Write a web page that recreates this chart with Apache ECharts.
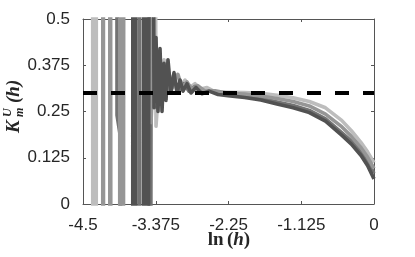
<!DOCTYPE html>
<html>
<head>
<meta charset="utf-8">
<script src="https://cdn.jsdelivr.net/npm/echarts/dist/echarts.min.js"></script>
<style>html,body{margin:0;padding:0;background:#fff}#c{width:415px;height:257px}</style>
</head>
<body>
<div id="c"></div>
<script>
// Tick values
const xTicks = [-4.5, -3.375, -2.25, -1.125, 0];
const yTicks = [0, 0.125, 0.25, 0.375, 0.5];
const refLevel = 0.3;

// Series 1 (light gray)
const s1X = [-4.5, -4.353, -4.346, -4.299, -4.291, -3.418, -3.371, -3.325, -3.294, -3.247, -3.201, -3.155, -3.108, -3.046, -2.985, -2.923, -2.845, -2.768, -2.691, -2.582, -2.459, -2.258, -2.0, -1.75, -1.5, -1.25, -1.0, -0.75, -0.5, -0.35, -0.2, -0.1, 0];
const s1Y = [3, 3, -3, -3, 3, 3, 0.21, 0.33, 0.30, 0.39, 0.31, 0.345, 0.315, 0.35, 0.32, 0.335, 0.315, 0.325, 0.31, 0.315, 0.303, 0.302, 0.301, 0.299, 0.294, 0.287, 0.277, 0.260, 0.226, 0.198, 0.166, 0.141, 0.112];

// Series 2 (mid gray)
const s2X = [-4.5, -4.198, -4.191, -4.183, -4.175, -4.090, -4.082, -4.067, -4.059, -3.936, -3.928, -3.897, -3.889, -3.866, -3.858, -3.464, -3.448, -3.418, -3.387, -3.340, -3.294, -3.232, -3.170, -3.108, -3.031, -2.969, -2.892, -2.815, -2.725, -2.613, -2.459, -2.258, -2.0, -1.75, -1.5, -1.25, -1.0, -0.75, -0.5, -0.35, -0.2, -0.1, 0];
const s2Y = [-3, -3, 3, 3, -3, -3, 3, 3, -3, -3, 3, 3, -3, -3, 3, 3, 0.22, 0.35, 0.27, 0.36, 0.29, 0.35, 0.30, 0.33, 0.35, 0.315, 0.33, 0.31, 0.32, 0.305, 0.306, 0.299, 0.297, 0.292, 0.285, 0.277, 0.265, 0.243, 0.209, 0.183, 0.152, 0.127, 0.096];

// Series 3 (dark gray)
const s3X = [-4.5, -3.982, -3.974, -3.920, -3.912, -3.634, -3.627, -3.479, -3.472, -3.448, -3.402, -3.356, -3.309, -3.263, -3.216, -3.155, -3.093, -3.015, -2.938, -2.861, -2.768, -2.660, -2.505, -2.258, -2.0, -1.75, -1.5, -1.25, -1.0, -0.75, -0.5, -0.35, -0.2, -0.1, 0];
const s3Y = [3, 3, 0.24, 0.18, -3, -3, 3, 3, -3, 0.28, 0.40, 0.26, 0.37, 0.28, 0.35, 0.30, 0.335, 0.305, 0.325, 0.305, 0.318, 0.302, 0.306, 0.296, 0.292, 0.286, 0.276, 0.266, 0.253, 0.230, 0.193, 0.170, 0.140, 0.115, 0.083];

// Series 4 (darkest gray)
const s4X = [-4.5, -3.734, -3.727, -3.688, -3.680, -3.572, -3.564, -3.533, -3.526, -3.448, -3.425, -3.402, -3.371, -3.340, -3.309, -3.278, -3.247, -3.216, -3.186, -3.139, -3.093, -3.046, -3.000, -2.954, -2.892, -2.830, -2.753, -2.660, -2.552, -2.412, -2.258, -2.0, -1.75, -1.5, -1.25, -1.0, -0.75, -0.5, -0.35, -0.2, -0.1, 0];
const s4Y = [-3, -3, 3, 3, -3, -3, 3, 3, -3, 3, 3, 0.26, 0.45, 0.25, 0.42, 0.25, 0.38, 0.28, 0.39, 0.30, 0.355, 0.30, 0.335, 0.305, 0.325, 0.30, 0.315, 0.298, 0.305, 0.296, 0.293, 0.288, 0.281, 0.270, 0.260, 0.247, 0.224, 0.186, 0.162, 0.131, 0.104, 0.068];

const zip = (xs, ys) => xs.map((x, i) => [x, ys[i]]);

const chart = echarts.init(document.getElementById('c'), null, {renderer: 'canvas'});
const axisCol = '#555';
const labelStyle = {fontSize: 17, color: '#262626', fontFamily: 'Liberation Sans, Arial, sans-serif'};
const xMin = xTicks[0], xMax = xTicks[xTicks.length - 1], xInt = xTicks[1] - xTicks[0];
const yMin = yTicks[0], yMax = yTicks[yTicks.length - 1], yInt = yTicks[1] - yTicks[0];

function lineSeries(data, color) {
  return {
    type: 'line', data: data, showSymbol: false, symbol: 'none', clip: true, silent: true,
    lineStyle: {color: color, width: 3.6, join: 'round'}
  };
}

chart.setOption({
  animation: false,
  backgroundColor: '#fff',
  grid: {left: 83, right: 41, top: 19, bottom: 53},
  xAxis: [
    {type: 'value', position: 'bottom', min: xMin, max: xMax, interval: xInt,
     axisLine: {show: true, onZero: false, lineStyle: {color: axisCol, width: 1}},
     axisTick: {show: true, inside: true, length: 3, lineStyle: {color: axisCol}},
     axisLabel: Object.assign({margin: 13, showMinLabel: true, showMaxLabel: true}, labelStyle),
     splitLine: {show: false}},
    {type: 'value', position: 'top', min: xMin, max: xMax, interval: xInt,
     axisLine: {show: true, onZero: false, lineStyle: {color: axisCol, width: 1}},
     axisTick: {show: true, inside: true, length: 3, lineStyle: {color: axisCol}},
     axisLabel: {show: false}, splitLine: {show: false}}
  ],
  yAxis: [
    {type: 'value', position: 'left', min: yMin, max: yMax, interval: yInt,
     axisLine: {show: true, onZero: false, lineStyle: {color: axisCol, width: 1}},
     axisTick: {show: true, inside: true, length: 3, lineStyle: {color: axisCol}},
     axisLabel: Object.assign({margin: 13, showMinLabel: true, showMaxLabel: true}, labelStyle),
     splitLine: {show: false}},
    {type: 'value', position: 'right', min: yMin, max: yMax, interval: yInt,
     axisLine: {show: true, onZero: false, lineStyle: {color: axisCol, width: 1}},
     axisTick: {show: true, inside: true, length: 3, lineStyle: {color: axisCol}},
     axisLabel: {show: false}, splitLine: {show: false}}
  ],
  series: [
    lineSeries(zip(s1X, s1Y), '#bdbdbd'),
    lineSeries(zip(s3X, s3Y), '#737373'),
    lineSeries(zip(s2X, s2Y), '#969696'),
    lineSeries(zip(s4X, s4Y), '#525252'),
    {type: 'line', data: [[xMin, refLevel], [xMax, refLevel]], showSymbol: false, symbol: 'none', silent: true,
     lineStyle: {color: '#000', width: 4, type: [14, 14]}}
  ],
  graphic: [
    {type: 'text', x: 229, y: 240,
     style: {text: '{a|ln} {b|(}{c|h}{b|)}', align: 'center', verticalAlign: 'middle',
       rich: {
         a: {font: 'bold 19px "Liberation Serif", serif', fill: '#262626'},
         b: {font: 'bold 19px "Liberation Serif", serif', fill: '#262626'},
         c: {font: 'bold italic 19px "Liberation Serif", serif', fill: '#262626'}
       }}},
    {type: 'group', x: 14, y: 107, rotation: Math.PI / 2,
     children: [
       {type: 'text', x: -26, y: 0, style: {text: 'K', font: 'bold italic 19px "Liberation Serif", serif', fill: '#262626', align: 'left', verticalAlign: 'middle'}},
       {type: 'text', x: -10, y: -6, style: {text: 'U', font: 'bold italic 12px "Liberation Serif", serif', fill: '#262626', align: 'left', verticalAlign: 'middle'}},
       {type: 'text', x: -10, y: 6, style: {text: 'm', font: 'bold italic 12px "Liberation Serif", serif', fill: '#262626', align: 'left', verticalAlign: 'middle'}},
       {type: 'text', x: 4, y: 0, style: {text: '(h)', font: 'bold italic 19px "Liberation Serif", serif', fill: '#262626', align: 'left', verticalAlign: 'middle'}}
     ]}
  ]
});
</script>
</body>
</html>
